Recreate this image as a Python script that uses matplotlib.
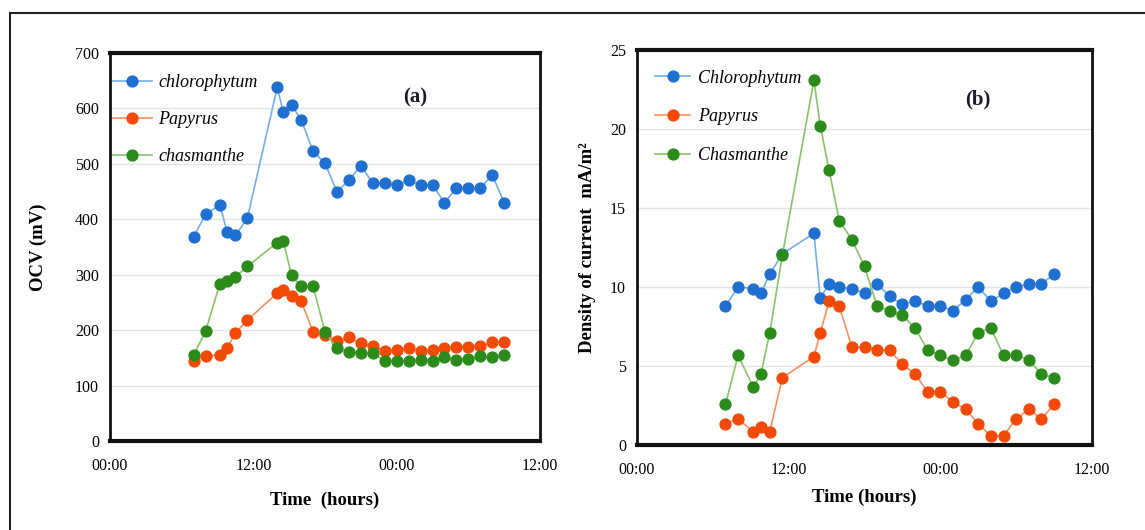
# OCV and current density of plant MFCs over time, two panels

import matplotlib.pyplot as plt
from matplotlib.patches import Rectangle

plt.rcParams['font.family'] = ['Liberation Serif', 'DejaVu Serif']

# sampling times in hours from 00:00 of day 1
hours = [7, 8, 9.2, 9.8, 10.5, 11.5, 14, 14.5, 15.2, 16, 17, 18, 19, 20, 21, 22,
         23, 24, 25, 26, 27, 28, 29, 30, 31, 32, 33]

# (a) open circuit voltage, mV
ocv_chloro = [368, 409, 426, 377, 371, 402, 638, 594, 606, 580, 523, 501, 450, 470,
              497, 465, 465, 462, 470, 461, 462, 430, 456, 456, 456, 480, 430]
ocv_papyrus = [145, 153, 156, 167, 195, 218, 267, 273, 262, 253, 197, 192, 180, 187,
               176, 171, 162, 165, 167, 162, 165, 167, 169, 170, 171, 178, 179]
ocv_chasm = [155, 198, 284, 288, 296, 315, 358, 361, 299, 279, 279, 197, 167, 161,
             158, 158, 145, 145, 145, 146, 145, 151, 146, 148, 153, 151, 155]

# (b) density of current, mA/m2
cd_chloro = [8.8, 10.0, 9.9, 9.6, 10.8, 12.1, 13.4, 9.3, 10.2, 10.0, 9.9, 9.6, 10.2,
             9.4, 8.9, 9.1, 8.8, 8.8, 8.5, 9.2, 10.0, 9.1, 9.6, 10.0, 10.2, 10.2, 10.8]
cd_papyrus = [1.35, 1.66, 0.82, 1.14, 0.82, 4.26, 5.6, 7.1, 9.1, 8.8, 6.2, 6.2, 6.0,
              6.0, 5.1, 4.5, 3.35, 3.35, 2.74, 2.26, 1.35, 0.57, 0.57, 1.66, 2.26,
              1.66, 2.57]
cd_chasm = [2.57, 5.67, 3.67, 4.47, 7.1, 12.0, 23.1, 20.2, 17.4, 14.2, 13.0, 11.3, 8.8,
            8.5, 8.2, 7.4, 6.0, 5.67, 5.36, 5.67, 7.1, 7.4, 5.67, 5.67, 5.4, 4.47, 4.26]

time_ticks = [0, 12, 24, 36]
time_labels = ["00:00", "12:00", "00:00", "12:00"]

# marker colour, line colour
blue = ("#1f6fd0", "#74aee8")
orange = ("#f24a05", "#f79060")
green = ("#2a8a1a", "#86c46a")

fig = plt.figure(figsize=(11.45, 5.3), dpi=100)

# outer frame of the figure
fig.add_artist(Rectangle((10 / 1145, -0.1), 1.2, 1.1 - 13 / 530,
                         transform=fig.transFigure, fill=False,
                         edgecolor="#222222", linewidth=1.5))

ax1 = fig.add_axes([110 / 1145, 89 / 530, 430 / 1145, 388 / 530])
ax2 = fig.add_axes([637 / 1145, 85 / 530, 455 / 1145, 395 / 530])


def draw(ax, y, cols, label):
    ax.plot(hours, y, color=cols[1], linewidth=1.2, marker="o", markersize=7.8,
            markerfacecolor=cols[0], markeredgecolor=cols[0], label=label, zorder=3)


draw(ax1, ocv_chloro, blue, "chlorophytum")
draw(ax1, ocv_papyrus, orange, "Papyrus")
draw(ax1, ocv_chasm, green, "chasmanthe")

draw(ax2, cd_chloro, blue, "Chlorophytum")
draw(ax2, cd_papyrus, orange, "Papyrus")
draw(ax2, cd_chasm, green, "Chasmanthe")

ax1.set_ylim(0, 700)
ax1.set_yticks(range(0, 701, 100))
ax2.set_ylim(0, 25)
ax2.set_yticks(range(0, 26, 5))

for ax in (ax1, ax2):
    ax.set_xlim(0, 36)
    ax.set_xticks(time_ticks)
    ax.set_xticklabels(time_labels)
    ax.tick_params(length=0, labelsize=11.5, pad=8)
    ax.tick_params(axis="x", pad=12)
    ax.grid(axis="y", color="#e4e4e4", linewidth=1)
    ax.set_axisbelow(True)
    for s in ax.spines.values():
        s.set_color("#111111")
        s.set_linewidth(2)
    ax.spines["top"].set_linewidth(3)
    ax.spines["bottom"].set_linewidth(3)

ax1.legend(loc="upper left", bbox_to_anchor=(0.007, 0.945), frameon=False,
           prop={"style": "italic", "size": 13}, handlelength=2.15,
           handletextpad=0.35, labelspacing=1.1, borderaxespad=0, borderpad=0)
ax2.legend(loc="upper left", bbox_to_anchor=(0.04, 0.95), frameon=False,
           prop={"style": "italic", "size": 13}, handlelength=1.95,
           handletextpad=0.4, labelspacing=1.2, borderaxespad=0, borderpad=0)

ax1.set_xlabel("Time  (hours)", fontsize=13.5, fontweight="bold", labelpad=13)
ax1.set_ylabel("OCV (mV)", fontsize=13.5, fontweight="bold", labelpad=20)
ax2.set_xlabel("Time (hours)", fontsize=13.5, fontweight="bold", labelpad=8)
ax2.set_ylabel("Density of current  mA/m²", fontsize=13.5, fontweight="bold", labelpad=10)

ax1.text(0.71, 0.885, "(a)", transform=ax1.transAxes, fontsize=15, fontweight="bold",
         ha="center", va="center", color="#1a1a2a")
ax2.text(0.75, 0.875, "(b)", transform=ax2.transAxes, fontsize=15, fontweight="bold",
         ha="center", va="center", color="#1a1a2a")

fig.savefig("out.png", dpi=100)
